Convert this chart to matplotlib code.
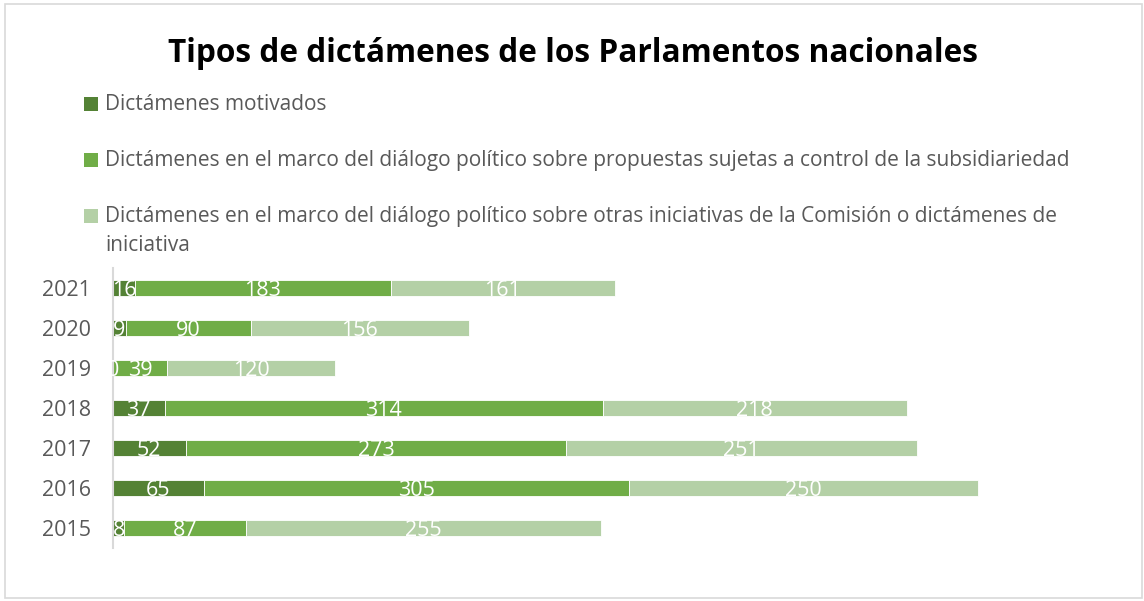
import matplotlib
matplotlib.use("Agg")
import matplotlib.pyplot as plt
from matplotlib.patches import Rectangle
import numpy as np

years = ["2015", "2016", "2017", "2018", "2019", "2020", "2021"]
motivados = [8, 65, 52, 37, 0, 9, 16]
subsidiariedad = [87, 305, 273, 314, 39, 90, 183]
otras = [255, 250, 251, 218, 120, 156, 161]
series_labels = [
    "Dictámenes motivados",
    "Dictámenes en el marco del diálogo político sobre propuestas sujetas a control de la subsidiariedad",
    "Dictámenes en el marco del diálogo político sobre otras iniciativas de la Comisión o dictámenes de\niniciativa",
]
title = "Tipos de dictámenes de los Parlamentos nacionales"
colors = ["#548235", "#70AD47", "#B4D0A6"]

plt.rcParams['font.family'] = ['Open Sans', 'DejaVu Sans']
W, H = 1144, 601
fig = plt.figure(figsize=(W / 100, H / 100), dpi=100)

def fx(px):
    return px / W

def fy(py):
    return 1 - py / H

# outer border
fig.patches.append(Rectangle((fx(5), fy(598)), fx(1142) - fx(5), fy(4) - fy(598),
                             transform=fig.transFigure, fill=False, edgecolor="#D9D9D9", lw=1.2))

ax = fig.add_axes([fx(113), fy(548), fx(1089.5) - fx(113), fy(268) - fy(548)])
y = np.arange(len(years))
left = np.zeros(len(years))
for vals, c in zip([motivados, subsidiariedad, otras], colors):
    vals = np.array(vals, dtype=float)
    ax.barh(y, vals, left=left, height=0.41, color=c, edgecolor="white", linewidth=0.6)
    for yi, l, v in zip(y, left, vals):
        ax.text(l + v / 2, yi - 0.05, f"{int(v)}", ha="center", va="center", color="white",
                fontsize=15.5, clip_on=False)
    left += vals

ax.set_xlim(0, 700)
ax.set_ylim(-0.5, 6.5)
ax.set_yticks(y)
ax.set_yticklabels(years, fontsize=15.5, color="#595959")
ax.tick_params(axis="y", length=0, pad=16)
ax.set_xticks([])
for s in ["top", "right", "bottom"]:
    ax.spines[s].set_visible(False)
ax.spines["left"].set_color("#D9D9D9")
ax.spines["left"].set_linewidth(1.5)

# title
fig.text(fx(573), fy(54), title, ha="center", va="center", fontsize=22.8, fontweight="bold", color="black")

# legend
leg_rows = [104, 160, 216]
for lab, c, ry in zip(series_labels, colors, leg_rows):
    fig.patches.append(Rectangle((fx(84), fy(ry + 7)), fx(14), fy(0) - fy(14),
                                 transform=fig.transFigure, facecolor=c, edgecolor="none"))
    fig.text(fx(105), fy(ry - 10), lab, ha="left", va="top",
             fontsize=15.0, color="#595959", linespacing=1.5)

fig.savefig("out.png", dpi=100)
